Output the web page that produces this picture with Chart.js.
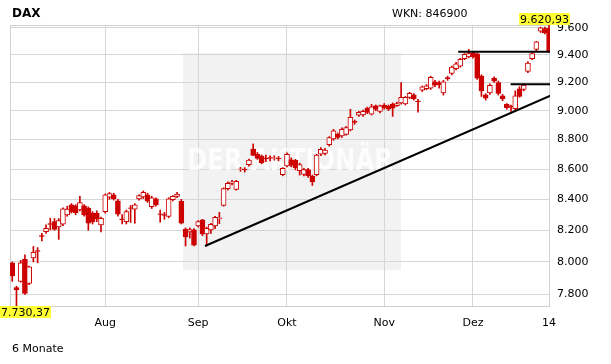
<!DOCTYPE html>
<html>
<head>
<meta charset="utf-8">
<script src="https://cdn.jsdelivr.net/npm/chart.js@4.4.0/dist/chart.umd.min.js"></script>
<style>
body { margin: 0; background: #fff; }
#wrap { width: 611px; height: 364px; }
</style>
</head>
<body>
<div id="wrap"><canvas id="chart" width="611" height="364"></canvas></div>
<script>
// trading day index: 1 = 2 Jul 2013 ... 128 = 2 Jan 2014
const opens = [7995,7842,7880,8016,7868,8025,8072,8166,8191,8242,8255,8222,8239,8299,8364,8357,8331,8357,8342,8310,
  8310,8234,8320,8414,8430,8390,8273,8255,8345,8336,8403,8416,8430,8352,8403,8306,8300,8288,8397,8419,
  8386,8206,8190,8202,8227,8266,8176,8202,8227,8275,8360,8470,8505,8465,8598,8599,8630,8735,8700,8688,
  8672,8677,8672,8674,8563,8622,8662,8658,8590,8565,8597,8552,8563,8700,8705,8765,8805,8836,8825,8836,
  8866,8925,8968,8970,9018,8976,9034,8995,9040,9030,9047,9036,9055,9047,9094,9112,9068,9145,9155,9160,
  9205,9200,9125,9235,9265,9300,9318,9372,9385,9415,9408,9245,9112,9125,9230,9200,9105,9045,9030,9015,
  9155,9150,9280,9372,9440,9575,9595,9598];
const highs = [8000,7850,8010,8045,7975,8097,8090,8180,8235,8277,8275,8275,8345,8355,8372,8365,8419,8365,8350,8320,
  8325,8285,8435,8445,8440,8400,8300,8330,8360,8372,8430,8455,8440,8420,8410,8330,8315,8410,8425,8445,
  8400,8215,8215,8210,8262,8270,8220,8245,8290,8315,8475,8515,8525,8525,8612,8610,8668,8770,8712,8695,
  8695,8690,8690,8685,8610,8710,8675,8665,8640,8605,8605,8560,8700,8745,8740,8820,8870,8845,8880,8890,
  9010,8935,8995,9005,9025,9045,9040,9040,9050,9040,9055,9060,9200,9100,9130,9120,9080,9175,9185,9245,
  9215,9210,9215,9245,9318,9345,9375,9410,9440,9424,9412,9255,9120,9190,9240,9210,9115,9050,9040,9140,
  9170,9190,9350,9415,9500,9605,9605,9620.93];
const lows = [7880,7730.37,7875,7800,7860,8000,7995,8132,8180,8202,8200,8142,8230,8290,8310,8300,8325,8290,8200,8240,
  8255,8190,8310,8400,8395,8290,8240,8240,8250,8245,8395,8405,8380,8340,8355,8252,8270,8280,8390,8410,
  8240,8100,8150,8100,8220,8165,8100,8180,8210,8242,8355,8460,8495,8460,8585,8580,8620,8690,8665,8635,
  8650,8655,8660,8655,8555,8615,8615,8595,8560,8555,8545,8491,8555,8690,8695,8755,8795,8805,8815,8830,
  8860,8905,8960,8960,8980,8970,9000,8985,9010,9000,8960,9030,9045,9040,9085,9075,8990,9135,9148,9150,
  9170,9160,9110,9215,9255,9290,9310,9365,9378,9375,9222,9100,9075,9115,9200,9110,9070,9010,8995,9005,
  9095,9140,9270,9365,9430,9565,9555,9420];
const closes = [7914,7830,7995,7806,7970,8060,8066,8160,8213,8238,8206,8262,8338,8336,8320,8313,8379,8299,8245,8255,
  8272,8277,8430,8437,8403,8304,8268,8320,8340,8364,8424,8445,8387,8410,8364,8302,8296,8403,8419,8434,
  8245,8158,8205,8106,8255,8176,8213,8238,8283,8280,8470,8505,8515,8518,8602,8595,8660,8692,8672,8642,
  8668,8673,8676,8668,8605,8700,8625,8610,8631,8597,8556,8515,8695,8733,8728,8814,8860,8814,8871,8882,
  8953,8918,8988,8995,8988,9027,9011,9034,9022,9010,9018,9050,9094,9094,9122,9082,9064,9168,9175,9236,
  9180,9185,9205,9228,9310,9335,9368,9403,9410,9385,9230,9140,9088,9180,9210,9122,9083,9022,9025,9105,
  9100,9182,9340,9410,9495,9600,9562,9430];

const monthTicks = [23, 45, 66, 89, 110, 128];
const monthLabels = ["Aug", "Sep", "Okt", "Nov", "Dez", "14"];
const priceTicks = [7800, 8000, 8200, 8400, 8600, 8800, 9000, 9200, 9400, 9600];

const trendLine = [[46.6, 8100], [128.6, 9110]];
const resistTop = [[106.5, 9422], [128.6, 9422]];
const resistMid = [[118.9, 9187], [128.6, 9187]];

const RED = "#cc0000";

function fmt(v, dec) {
    const parts = v.toFixed(dec).split(".");
    parts[0] = parts[0].replace(/\B(?=(\d{3})+(?!\d))/g, ".");
    return parts.join(",");
}

const days = opens.map((o, i) => i + 1);
const bodies = days.map((d, i) => ({ x: d, y: [opens[i], closes[i]] }));
const wicks = days.map((d, i) => ({ x: d, y: [lows[i], highs[i]] }));
const bodyFill = days.map((d, i) => closes[i] < opens[i] ? RED : "#ffffff");
const toPts = arr => arr.map(p => ({ x: p[0], y: p[1] }));

const decor = {
    id: "decor",
    beforeDraw(chart) {
        const ctx = chart.ctx;
        ctx.save();
        ctx.fillStyle = "#ffffff";
        ctx.fillRect(0, 0, chart.width, chart.height);
        ctx.fillStyle = "#f2f2f2";
        ctx.fillRect(183, 53, 218, 217);
        ctx.restore();
    },
    beforeDatasetsDraw(chart) {
        const ctx = chart.ctx;
        const a = chart.chartArea;
        ctx.save();
        ctx.font = "bold 30px 'DejaVu Sans'";
        ctx.fillStyle = "rgba(255,255,255,0.8)";
        ctx.textAlign = "center";
        ctx.textBaseline = "middle";
        const txt = "DER AKTIONÄR";
        const w = ctx.measureText(txt).width;
        ctx.translate(290, 162);
        ctx.scale(206 / w, 1);
        ctx.fillText(txt, 0, 0);
        ctx.restore();

        ctx.save();
        ctx.strokeStyle = "#d0d0d0";
        ctx.lineWidth = 1;
        ctx.strokeRect(a.left + 0.5, a.top + 0.5, a.right - a.left - 1, a.bottom - a.top);
        ctx.restore();
    },
    afterDraw(chart) {
        const ctx = chart.ctx;
        const xs = chart.scales.x;
        ctx.save();
        ctx.fillStyle = "#000";
        ctx.textBaseline = "alphabetic";
        ctx.font = "bold 12px 'DejaVu Sans'";
        ctx.fillText("DAX", 12, 17);
        ctx.font = "11px 'DejaVu Sans'";
        ctx.fillText("WKN: 846900", 392, 17);
        ctx.fillText("6 Monate", 12, 352);

        // max / min labels
        const maxV = Math.max(...highs), minV = Math.min(...lows);
        const maxI = highs.indexOf(maxV) + 1, minI = lows.indexOf(minV) + 1;
        const tMax = fmt(maxV, 2), tMin = fmt(minV, 2);
        let w = ctx.measureText(tMax).width + 2;
        let x = Math.min(xs.getPixelForValue(maxI) - w / 2, 570 - w);
        ctx.fillStyle = "#ffff33";
        ctx.fillRect(x, chart.chartArea.top - 12, w, 12);
        ctx.fillStyle = "#000";
        ctx.fillText(tMax, x + 1, chart.chartArea.top - 2);
        w = ctx.measureText(tMin).width + 2;
        x = Math.max(xs.getPixelForValue(minI) - w / 2, 0);
        ctx.fillStyle = "#ffff33";
        ctx.fillRect(x, chart.chartArea.bottom, w, 12);
        ctx.fillStyle = "#000";
        ctx.fillText(tMin, x + 1, chart.chartArea.bottom + 10);
        ctx.restore();
    }
};

Chart.defaults.font.family = "'DejaVu Sans'";
Chart.defaults.font.size = 11;
Chart.defaults.color = "#000";

new Chart(document.getElementById("chart"), {
    data: {
        datasets: [
            {
                type: "line", data: toPts(trendLine), borderColor: "#000", borderWidth: 2,
                pointRadius: 0, order: 0
            },
            {
                type: "line", data: toPts(resistTop), borderColor: "#000", borderWidth: 2,
                pointRadius: 0, order: 0
            },
            {
                type: "line", data: toPts(resistMid), borderColor: "#000", borderWidth: 2,
                pointRadius: 0, order: 0
            },
            {
                type: "bar", data: bodies, backgroundColor: bodyFill, borderColor: RED,
                borderWidth: 1, borderSkipped: false, barThickness: 5, grouped: false, order: 1
            },
            {
                type: "bar", data: wicks, backgroundColor: RED, borderWidth: 0,
                barThickness: 1, grouped: false, order: 2
            }
        ]
    },
    options: {
        responsive: false,
        animation: false,
        layout: { padding: { left: 10, top: 25, right: 0, bottom: 0 } },
        plugins: { legend: { display: false }, tooltip: { enabled: false } },
        scales: {
            x: {
                type: "linear",
                min: 0.47,
                max: 128.22,
                offset: false,
                afterFit: s => { s.height = 58; },
                afterBuildTicks: s => { s.ticks = monthTicks.map(v => ({ value: v })); },
                grid: { color: "#d6d6d6", drawTicks: false, offset: false },
                border: { display: false },
                ticks: {
                    padding: 11,
                    autoSkip: false,
                    maxRotation: 0,
                    callback: v => monthLabels[monthTicks.indexOf(v)]
                }
            },
            y: {
                type: "logarithmic",
                position: "right",
                min: 7730.37,
                max: 9620.93,
                afterFit: s => { s.width = 61; },
                afterBuildTicks: s => { s.ticks = priceTicks.map(v => ({ value: v })); },
                grid: { color: "#d6d6d6", drawTicks: false },
                border: { display: false },
                ticks: {
                    padding: 7,
                    callback: v => fmt(v, 0)
                }
            }
        }
    },
    plugins: [decor]
});
</script>
</body>
</html>
